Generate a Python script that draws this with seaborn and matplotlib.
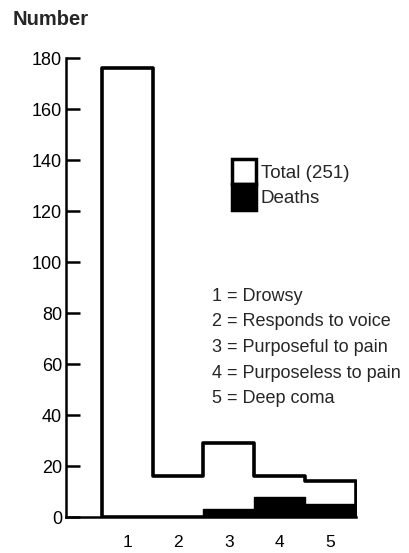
import matplotlib
matplotlib.use("Agg")
import matplotlib.pyplot as plt
import seaborn as sns
import pandas as pd
from matplotlib.patches import Patch

# coma grade categories and counts
grades = [1, 2, 3, 4, 5]
totals = [176, 16, 29, 16, 14]
deaths = [0, 0, 3, 8, 5]
grade_labels = ["1 = Drowsy", "2 = Responds to voice", "3 = Purposeful to pain",
                "4 = Purposeless to pain", "5 = Deep coma"]
y_ticks = [0, 20, 40, 60, 80, 100, 120, 140, 160, 180]

df = pd.DataFrame({"Grade": grades, "Total": totals, "Deaths": deaths})

sns.set_theme(style="ticks")
plt.rcParams['font.family'] = ['Liberation Sans', 'DejaVu Sans']

fig = plt.figure(figsize=(4.09, 5.53), dpi=100)
ax = fig.add_axes([0.162, 0.065, 0.708, 0.83])

# totals: white filled step outline
sns.histplot(data=df, x="Grade", weights="Total", discrete=True, element="step",
             fill=True, facecolor="white", edgecolor="black", alpha=1,
             linewidth=2.6, ax=ax)
# deaths: solid black
sns.histplot(data=df, x="Grade", weights="Deaths", discrete=True, element="step",
             fill=True, facecolor="black", edgecolor="black", alpha=1,
             linewidth=1.0, ax=ax)

ax.set_xlim(-0.2, 5.5)
ax.set_ylim(0, 180)
ax.set_yticks(y_ticks)
ax.set_xticks(grades)
ax.set_xticklabels([str(g) for g in grades])
ax.set_xlabel("")
ax.set_ylabel("")
for s in ["top", "right"]:
    ax.spines[s].set_visible(False)
for s in ["left", "bottom"]:
    ax.spines[s].set_color("black")
    ax.spines[s].set_linewidth(1.8)
ax.tick_params(axis="y", left=True, direction="in", length=10, width=1.8,
               labelsize=13, pad=3, colors="black")
ax.tick_params(axis="x", bottom=False, length=0, labelsize=12.5, pad=13, colors="black")

fig.text(0.03, 0.965, "Number", fontsize=14.5, fontweight="bold", va="center", ha="left")

handles = [Patch(facecolor="white", edgecolor="black", linewidth=2.5),
           Patch(facecolor="black", edgecolor="black", linewidth=2.5)]
ax.legend(handles, ["Total (251)", "Deaths"], loc="upper left",
          bbox_to_anchor=(0.572, 0.78), frameon=False, fontsize=13.5,
          handlelength=1.3, handleheight=1.7, labelspacing=0.0,
          handletextpad=0.25, borderpad=0, borderaxespad=0)

for i, lab in enumerate(grade_labels):
    fig.text(0.518, 0.464 - i * 0.0462, lab, fontsize=13, va="center", ha="left")

fig.savefig("out.png", dpi=100)
